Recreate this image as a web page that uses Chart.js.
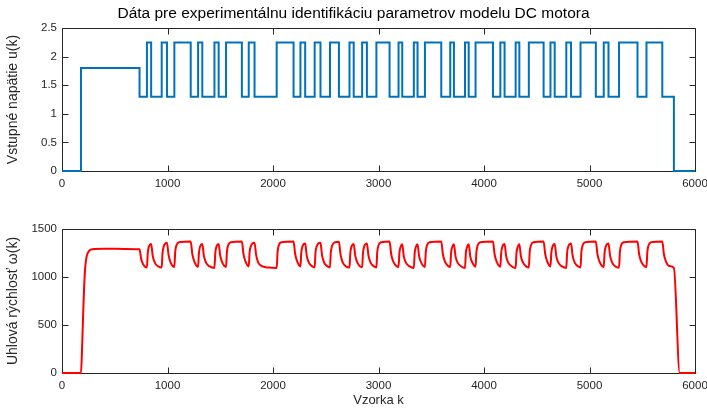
<!doctype html>
<html lang="sk">
 <head>
  <meta charset="utf-8">
  <script src="https://cdn.jsdelivr.net/npm/chart.js@4.4.0/dist/chart.umd.min.js"></script>
  <style>
body { margin: 0; background: #fff; }
.plot { position: absolute; left: 0; width: 707px; }
#top-plot { top: 0; height: 200px; }
#bottom-plot { top: 200px; height: 208px; }
  </style>
  <title>DC motor</title>
 </head>
 <body>
  <div class="plot" id="top-plot"><canvas id="uchart"></canvas></div>
  <div class="plot" id="bottom-plot"><canvas id="wchart"></canvas></div>
  <script>
// input voltage u(k): sample where a new level starts, and that level
var uK = [0, 180, 735, 805, 845, 945, 995, 1065, 1220, 1290, 1330, 1445, 1485, 1555, 1705, 1770, 1825,
  2035, 2195, 2260, 2305, 2395, 2450, 2540, 2625, 2725, 2765, 2845, 2890, 2980, 3105, 3190, 3225,
  3335, 3370, 3440, 3595, 3680, 3715, 3820, 3855, 3920, 4085, 4155, 4195, 4300, 4335, 4425, 4565,
  4630, 4670, 4780, 4825, 4915, 5060, 5135, 5180, 5280, 5455, 5540, 5690, 5800, 6000];
var uV = [0, 1.8, 1.3, 2.25, 1.3, 2.25, 1.3, 2.25, 1.3, 2.25, 1.3, 2.25, 1.3, 2.25, 1.3, 2.25, 1.3,
  2.25, 1.3, 2.25, 1.3, 2.25, 1.3, 2.25, 1.3, 2.25, 1.3, 2.25, 1.3, 2.25, 1.3, 2.25, 1.3,
  2.25, 1.3, 2.25, 1.3, 2.25, 1.3, 2.25, 1.3, 2.25, 1.3, 2.25, 1.3, 2.25, 1.3, 2.25, 1.3,
  2.25, 1.3, 2.25, 1.3, 2.25, 1.3, 2.25, 1.3, 2.25, 1.3, 2.25, 1.3, 0, 0];

// angular speed w(k) as [k, w]
var omegaPts = [
  [0, 0], [180, 0], [190, 250], [200, 600], [210, 900], [220, 1100], [235, 1220], [255, 1270], [285, 1290],
  [400, 1295], [600, 1292], [735, 1288], [750, 1190], [770, 1130], [805, 1100],
  [813, 1250], [825, 1320], [845, 1345], [860, 1220], [880, 1150], [910, 1112], [945, 1098],
  [953, 1250], [965, 1320], [980, 1350], [995, 1358], [1010, 1230], [1030, 1150], [1065, 1105],
  [1073, 1260], [1085, 1330], [1110, 1362], [1220, 1370], [1235, 1240], [1255, 1160], [1290, 1105],
  [1298, 1250], [1310, 1320], [1330, 1345], [1345, 1220], [1365, 1150], [1400, 1110], [1445, 1095],
  [1453, 1250], [1465, 1320], [1485, 1345], [1500, 1220], [1520, 1150], [1555, 1105],
  [1563, 1260], [1575, 1330], [1600, 1362], [1705, 1370], [1720, 1240], [1740, 1160], [1770, 1110],
  [1778, 1255], [1790, 1320], [1805, 1350], [1825, 1358], [1840, 1230], [1860, 1150], [1900, 1110], [1960, 1098], [2035, 1095],
  [2043, 1255], [2055, 1330], [2080, 1362], [2195, 1370], [2210, 1240], [2230, 1160], [2260, 1110],
  [2268, 1255], [2280, 1320], [2305, 1348], [2320, 1220], [2340, 1150], [2370, 1112], [2395, 1100],
  [2403, 1255], [2415, 1320], [2430, 1350], [2450, 1358], [2465, 1225], [2485, 1150], [2515, 1112], [2540, 1100],
  [2548, 1255], [2560, 1325], [2585, 1360], [2625, 1368], [2640, 1235], [2660, 1155], [2690, 1112], [2725, 1098],
  [2733, 1250], [2745, 1320], [2765, 1345], [2780, 1220], [2800, 1150], [2845, 1102],
  [2853, 1250], [2865, 1320], [2890, 1350], [2905, 1222], [2925, 1150], [2955, 1112], [2980, 1100],
  [2988, 1258], [3000, 1330], [3025, 1362], [3105, 1370], [3120, 1240], [3140, 1160], [3170, 1115], [3190, 1105],
  [3198, 1250], [3210, 1315], [3225, 1340], [3240, 1215], [3260, 1150], [3295, 1110], [3335, 1095],
  [3343, 1250], [3355, 1315], [3370, 1340], [3385, 1215], [3405, 1150], [3440, 1105],
  [3448, 1258], [3460, 1330], [3485, 1362], [3595, 1370], [3610, 1240], [3630, 1160], [3660, 1115], [3680, 1105],
  [3688, 1250], [3700, 1315], [3715, 1342], [3730, 1215], [3750, 1150], [3785, 1110], [3820, 1095],
  [3828, 1250], [3840, 1315], [3855, 1342], [3870, 1215], [3890, 1150], [3920, 1108],
  [3928, 1258], [3940, 1330], [3965, 1362], [4085, 1370], [4100, 1240], [4120, 1160], [4155, 1108],
  [4163, 1250], [4175, 1318], [4195, 1345], [4210, 1218], [4230, 1150], [4265, 1110], [4300, 1095],
  [4308, 1250], [4320, 1315], [4335, 1342], [4350, 1215], [4370, 1150], [4400, 1110], [4425, 1100],
  [4433, 1258], [4445, 1330], [4470, 1362], [4565, 1370], [4580, 1240], [4600, 1160], [4630, 1110],
  [4638, 1252], [4650, 1318], [4670, 1345], [4685, 1218], [4705, 1150], [4740, 1110], [4780, 1095],
  [4788, 1252], [4800, 1320], [4825, 1350], [4840, 1222], [4860, 1150], [4890, 1112], [4915, 1100],
  [4923, 1258], [4935, 1330], [4960, 1362], [5060, 1370], [5075, 1240], [5095, 1160], [5135, 1105],
  [5143, 1252], [5155, 1320], [5180, 1350], [5195, 1222], [5215, 1150], [5245, 1110], [5280, 1097],
  [5288, 1258], [5300, 1330], [5325, 1362], [5455, 1370], [5470, 1240], [5490, 1160], [5520, 1115], [5540, 1105],
  [5548, 1258], [5560, 1330], [5585, 1362], [5690, 1370], [5705, 1240], [5725, 1160], [5755, 1115], [5800, 1095],
  [5855, 0], [6000, 0]
];

var xTicks = [0, 1000, 2000, 3000, 4000, 5000, 6000];
var uTicks = [0, 0.5, 1, 1.5, 2, 2.5];
var wTicks = [0, 500, 1000, 1500];

Chart.defaults.font.family = "'Liberation Sans', Arial, sans-serif";
Chart.defaults.font.size = 11.5;
Chart.defaults.color = '#262626';

// matlab style box with ticks pointing inwards on all four sides
const boxTicks = {
  id: 'boxTicks',
  beforeDatasetsDraw(chart) {
    const ctx = chart.ctx, a = chart.chartArea, sx = chart.scales.x, sy = chart.scales.y;
    const L = Math.round(a.left) + 0.5, R = Math.round(a.right) + 0.5;
    const T = Math.round(a.top) + 0.5, B = Math.round(a.bottom) + 0.5;
    ctx.save();
    ctx.strokeStyle = '#262626';
    ctx.lineWidth = 1;
    ctx.beginPath();
    sx.ticks.forEach(function (t) {
      const p = Math.round(sx.getPixelForValue(t.value)) + 0.5;
      ctx.moveTo(p, B); ctx.lineTo(p, B - 6);
      ctx.moveTo(p, T); ctx.lineTo(p, T + 6);
    });
    sy.ticks.forEach(function (t) {
      const p = Math.round(sy.getPixelForValue(t.value)) + 0.5;
      ctx.moveTo(L, p); ctx.lineTo(L + 6, p);
      ctx.moveTo(R, p); ctx.lineTo(R - 6, p);
    });
    ctx.rect(L, T, R - L, B - T);
    ctx.stroke();
    ctx.restore();
  }
};

function tickList(values) {
  return function (scale) {
    scale.ticks = values.map(function (v) { return { value: v }; });
  };
}

function plainLabel(v) { return String(v); }

function xScale(titleText, height) {
  return {
    type: 'linear', min: 0, max: 6000,
    afterBuildTicks: tickList(xTicks),
    afterFit: function (s) {
      s.height = height;
      // fixed room for the end labels so the plot box lines up with the reference
      s.paddingLeft = 0;
      s.paddingRight = 12;
    },
    grid: { display: false, drawTicks: false },
    border: { display: false },
    ticks: { padding: 6, maxRotation: 0, callback: plainLabel },
    title: { display: !!titleText, text: titleText, font: { size: 13 }, padding: { top: 0, bottom: 0 } }
  };
}

function yScale(titleText, max, ticks) {
  return {
    type: 'linear', min: 0, max: max,
    afterBuildTicks: tickList(ticks),
    afterFit: function (s) { s.width = 62; },
    grid: { display: false, drawTicks: false },
    border: { display: false },
    ticks: { padding: 5, callback: plainLabel },
    title: { display: true, text: titleText, font: { size: 14 }, padding: { top: 5, bottom: 0 } }
  };
}

const uChart = new Chart(document.getElementById('uchart'), {
  type: 'line',
  data: {
    datasets: [{
      data: uK.map(function (k, i) { return { x: k, y: uV[i] }; }),
      stepped: true,
      borderColor: '#0072BD',
      borderWidth: 2,
      pointRadius: 0,
      clip: 3
    }]
  },
  options: {
    animation: false,
    responsive: true,
    maintainAspectRatio: false,
    layout: { padding: 0 },
    scales: {
      x: xScale('', 29),
      y: yScale('Vstupné napätie u(k)', 2.5, uTicks)
    },
    plugins: {
      legend: { display: false },
      tooltip: { enabled: false },
      title: {
        display: true,
        text: 'Dáta pre experimentálnu identifikáciu parametrov modelu DC motora',
        font: { size: 15.5, weight: 'normal' },
        color: '#000',
        padding: { top: 4, bottom: 5.5 }
      }
    }
  },
  plugins: [boxTicks]
});

const wChart = new Chart(document.getElementById('wchart'), {
  type: 'line',
  data: {
    datasets: [{
      data: omegaPts.map(function (p) { return { x: p[0], y: p[1] }; }),
      cubicInterpolationMode: 'monotone',
      borderColor: '#FF0000',
      borderWidth: 2,
      pointRadius: 0,
      clip: 3
    }]
  },
  options: {
    animation: false,
    responsive: true,
    maintainAspectRatio: false,
    layout: { padding: { left: 0, right: 0, top: 29, bottom: 0 } },
    scales: {
      x: xScale('Vzorka k', 35),
      y: yScale('Uhlová rýchlosť ω(k)', 1500, wTicks)
    },
    plugins: {
      legend: { display: false },
      tooltip: { enabled: false }
    }
  },
  plugins: [boxTicks]
});
  </script>
 </body>
</html>
